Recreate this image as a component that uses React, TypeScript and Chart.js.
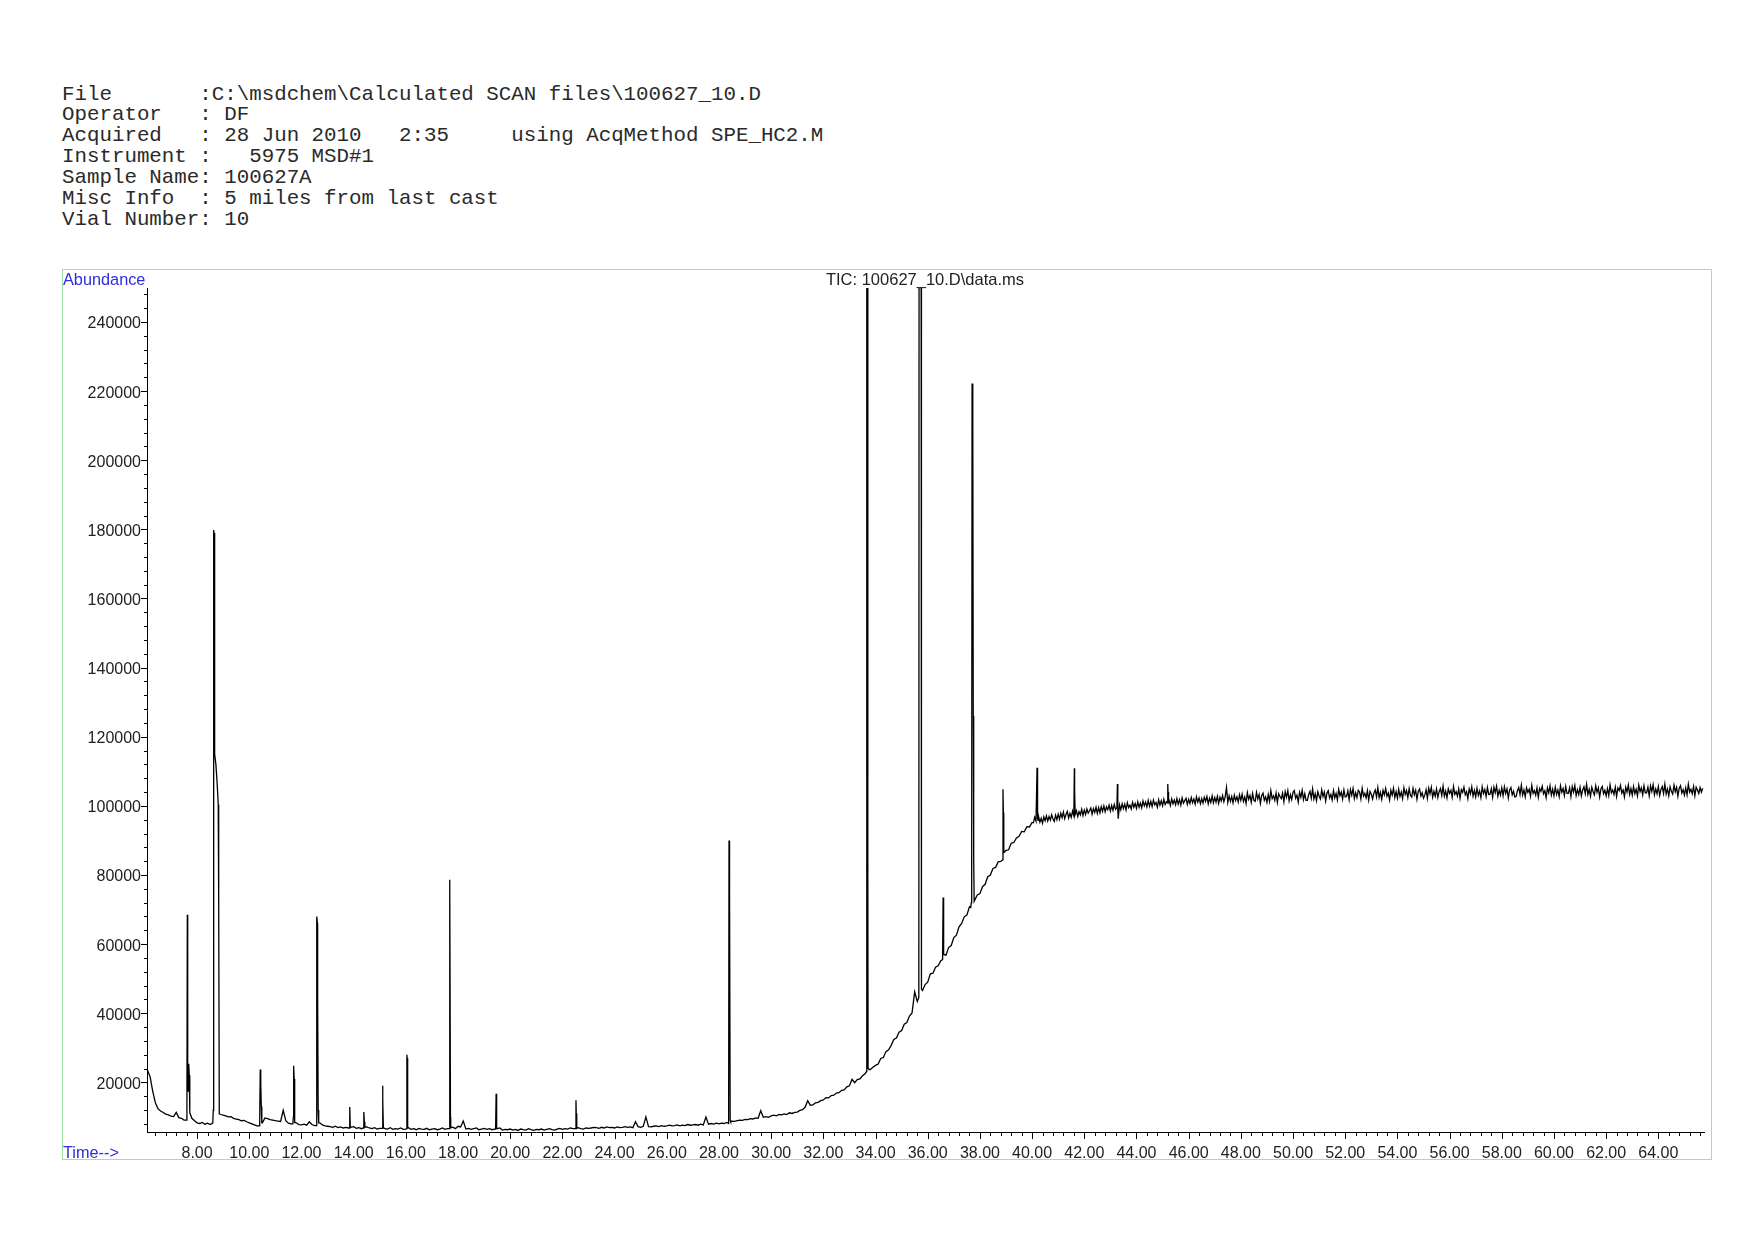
import React, { useEffect, useRef } from 'react';
import { Chart, registerables } from 'chart.js';

Chart.register(...registerables);

// ---------- texts ----------
const headerLines = [
  'File       :C:\\msdchem\\Calculated SCAN files\\100627_10.D',
  'Operator   : DF',
  'Acquired   : 28 Jun 2010   2:35     using AcqMethod SPE_HC2.M',
  'Instrument :   5975 MSD#1',
  'Sample Name: 100627A',
  'Misc Info  : 5 miles from last cast',
  'Vial Number: 10',
];
const chartTitle = 'TIC: 100627_10.D\\data.ms';
const yAxisLabel = 'Abundance';
const xAxisLabel = 'Time-->';

// ---------- axes ----------
const timeMin = 6.08;
const timeMax = 65.75;
const abundanceMin = 5640;
const abundanceMax = 249830;
const xMajorTicks = [8, 10, 12, 14, 16, 18, 20, 22, 24, 26, 28, 30, 32, 34, 36, 38, 40, 42, 44, 46, 48, 50, 52, 54, 56, 58, 60, 62, 64];
const xMinorStep = 0.4;
const yMajorTicks = [20000, 40000, 60000, 80000, 100000, 120000, 140000, 160000, 180000, 200000, 220000, 240000];
const yMinorStep = 4000;

// ---------- TIC baseline (abundance / 1000) ----------
// segments A-C: one scan value every 0.1 min
const segAStart = 6.1;
const segA = [
  23.5, 21.6, 17.4, 14.1, 12.4, 11.7, 11.3, 10.8, 10.6, 10.2,
  10.1, 11.3, 9.8, 9.6, 9.1, 9.2, 10.9, 9.6, 8.9, 8.3,
  8.1, 8.4, 7.9, 8.2, 7.8, 8.0, 8.0, 8.0, 10.7, 10.5,
  10.3, 10.0, 10.1, 9.6, 9.4, 9.2, 8.9, 9.0, 8.6, 8.3,
  8.0, 7.7, 7.4, 7.4, 8.3, 9.7, 9.5, 9.2, 9.1, 8.9,
  8.8, 8.7, 11.9, 8.9, 8.2, 8.0, 8.1, 8.3, 7.8, 7.7,
  7.9, 7.6, 8.6, 7.8, 7.5, 7.6, 8.3, 7.7, 7.4, 7.3,
  7.2, 7.0, 7.3, 6.9, 7.1, 6.8, 7.0, 6.8, 7.0, 7.2,
  6.7, 6.9, 6.6, 7.0, 7.1, 6.8, 6.6, 6.9, 6.5, 6.7,
  6.8, 6.6, 6.5, 6.9, 6.4, 6.6, 6.5, 6.8, 6.4, 6.5,
  6.9, 6.4, 6.6, 6.3, 6.7, 6.5, 6.4, 6.7, 6.3, 6.5,
  6.6, 6.3, 6.5, 6.8, 6.4, 6.6, 6.5, 7.0, 6.6, 7.3,
  7.1, 8.8, 6.5, 6.7, 6.4, 6.6, 6.8, 6.3, 6.5, 6.7,
  6.4, 6.6, 6.3, 6.5, 6.6, 6.8, 6.2, 6.4, 6.3, 6.5,
];
const segBStart = 20.1;
const segB = [
  6.2, 6.4, 6.1, 6.5, 6.3, 6.2, 6.6, 6.3, 6.1, 6.4,
  6.3, 6.5, 6.2, 6.4, 6.6, 6.3, 6.2, 6.5, 6.7, 6.4,
  6.6, 6.5, 6.8, 6.6, 6.7, 6.9, 6.6, 6.5, 6.8, 6.7,
  6.8, 7.0, 6.9, 6.7, 7.0, 6.8, 7.1, 6.9, 7.0, 6.8,
  7.1, 6.9, 7.0, 7.2, 7.0, 7.1, 6.9, 8.6, 7.2, 7.0,
  7.3, 10.0, 7.2, 7.1, 7.3, 7.4, 7.2, 7.5, 7.3, 7.4,
  7.6, 7.4, 7.5, 7.7, 7.4, 7.6, 7.5, 7.8, 7.6, 7.7,
  7.8, 7.6, 7.9, 7.7, 10.0, 7.9, 8.1, 7.9, 8.2, 8.0,
  8.2, 8.1, 8.4, 8.1, 8.8, 8.7, 8.9, 9.1, 9.0, 9.3,
  9.2, 9.5, 9.4, 9.7, 9.6, 11.8, 9.9, 10.1, 9.9, 10.3,
  10.5, 10.3, 10.7, 10.6, 10.9, 10.7, 11.2, 11.0, 11.3, 11.4,
  11.9, 12.1, 12.8, 14.7, 13.4, 13.5, 14.1, 14.2, 14.7, 14.9,
  15.6, 15.5, 16.2, 16.3, 16.9, 17.0, 17.7, 17.8, 18.7, 19.0,
  20.9, 19.9, 20.8, 21.0, 21.9, 22.5, 23.0, 23.7, 24.4, 24.9,
];
const segCStart = 34.1;
const segC = [
  25.3, 26.9, 27.2, 28.9, 29.4, 30.7, 32.4, 32.8, 34.5, 35.0,
  36.8, 37.3, 39.2, 40.1, 46.2, 43.4, 45.0, 46.6, 48.3, 49.0,
  51.4, 51.6, 53.3, 53.7, 55.2, 56.0, 56.8, 59.0, 59.6, 61.9,
  62.6, 65.0, 66.0, 67.9, 68.4, 70.8, 71.0, 72.4, 74.2, 74.6,
  76.6, 77.3, 79.5, 80.0, 81.9, 82.2, 83.8, 83.9, 85.0, 87.1,
  87.3, 89.2, 89.4, 90.7, 91.2, 92.6, 92.5, 94.0, 93.9, 95.2,
];
// segments E-F: one scan value every 0.05 min (noisy plateau)
const segEStart = 40.05;
const segE = [
  95.1, 96.7, 95.6, 94.9, 96.9, 95.3, 96.4, 95.0, 96.8, 95.7,
  97.1, 95.6, 96.9, 95.9, 97.4, 96.2, 95.5, 97.3, 96.0, 97.6,
  96.1, 97.9, 96.6, 98.2, 96.3, 97.5, 98.4, 96.5, 97.8, 96.7,
  98.5, 97.0, 97.2, 98.6, 96.9, 98.3, 97.4, 99.0, 97.2, 98.8,
  97.5, 99.1, 97.9, 98.6, 99.4, 97.6, 99.2, 98.1, 99.6, 97.8,
  99.5, 98.0, 99.8, 98.4, 100.0, 98.3, 99.7, 98.9, 100.2, 98.5,
  100.1, 98.7, 100.4, 99.0, 99.4, 96.3, 100.3, 98.9, 100.6, 99.2,
  100.5, 98.8, 100.9, 99.5, 100.2, 99.1, 101.0, 99.6, 100.7, 99.3,
  101.2, 99.6, 100.8, 99.4, 101.4, 100.0, 101.1, 99.7, 101.6, 99.9,
  101.3, 99.8, 101.7, 100.3, 101.0, 99.6, 101.8, 100.2, 101.5, 100.0,
  101.9, 100.4, 101.2, 100.5, 101.6, 100.1, 102.0, 100.6, 101.7, 100.3,
  102.1, 100.5, 101.8, 100.2, 102.3, 100.8, 101.5, 102.2, 100.4, 101.9,
  100.7, 102.4, 100.9, 102.0, 100.5, 102.6, 101.1, 102.3, 100.6, 102.1,
  100.8, 102.5, 101.3, 102.7, 100.6, 102.2, 101.0, 102.9, 100.9, 102.4,
  101.1, 102.8, 100.7, 102.5, 101.4, 103.0, 101.2, 102.6, 105.3, 101.0,
  102.9, 101.3, 102.7, 100.9, 103.1, 101.5, 102.6, 101.1, 103.2, 101.6,
];
const segFStart = 48.05;
const segF = [
  103.4, 101.3, 102.6, 100.7, 103.8, 101.9, 103.0, 101.0, 103.6, 101.6,
  101.3, 103.9, 102.0, 103.3, 100.7, 103.0, 103.7, 101.6, 102.6, 101.0,
  103.3, 101.3, 104.4, 102.1, 102.9, 101.6, 103.7, 101.0, 103.5, 102.7,
  102.1, 103.7, 101.2, 104.1, 102.5, 104.4, 101.5, 103.2, 101.8, 103.9,
  104.4, 102.2, 103.1, 101.1, 103.9, 102.5, 104.5, 101.8, 103.5, 101.6,
  101.6, 103.3, 104.2, 102.2, 104.9, 102.0, 103.5, 101.5, 104.1, 102.8,
  102.0, 104.6, 102.7, 104.0, 101.4, 103.7, 104.4, 102.3, 103.3, 101.7,
  104.4, 102.3, 103.6, 101.7, 104.8, 102.9, 104.0, 102.0, 104.6, 102.6,
  102.7, 104.3, 101.8, 104.7, 103.1, 105.0, 102.1, 103.8, 102.4, 104.5,
  104.0, 102.0, 105.1, 102.8, 103.6, 102.3, 104.4, 101.7, 104.2, 103.4,
  102.0, 103.7, 104.6, 102.6, 105.3, 102.4, 103.9, 101.9, 104.5, 103.2,
  105.0, 102.8, 103.7, 101.7, 104.5, 103.1, 105.1, 102.4, 104.1, 102.2,
  104.8, 102.7, 104.0, 102.1, 105.2, 103.3, 104.4, 102.4, 105.0, 103.0,
  102.5, 105.1, 103.2, 104.5, 101.9, 104.2, 104.9, 102.8, 103.8, 102.2,
  103.1, 104.7, 102.2, 105.1, 103.5, 105.4, 102.5, 104.2, 102.8, 104.9,
  102.4, 104.1, 105.0, 103.0, 105.7, 102.8, 104.3, 102.3, 104.9, 103.6,
  104.5, 102.5, 105.6, 103.3, 104.1, 102.8, 104.9, 102.2, 104.7, 103.9,
  105.4, 103.2, 104.1, 102.1, 104.9, 103.5, 105.5, 102.8, 104.5, 102.6,
  105.1, 103.0, 104.3, 102.4, 105.5, 103.6, 104.7, 102.7, 105.3, 103.3,
  103.4, 105.0, 102.5, 105.4, 103.8, 105.7, 102.8, 104.5, 103.1, 105.2,
  102.9, 105.5, 103.6, 104.9, 102.3, 104.6, 105.3, 103.2, 104.2, 102.6,
  102.7, 104.4, 105.3, 103.3, 106.0, 103.1, 104.6, 102.6, 105.2, 103.9,
  104.8, 102.8, 105.9, 103.6, 104.4, 103.1, 105.2, 102.5, 105.0, 104.2,
  105.7, 103.5, 104.4, 102.4, 105.2, 103.8, 105.8, 103.1, 104.8, 102.9,
  105.4, 103.3, 104.6, 102.7, 105.8, 103.9, 105.0, 103.0, 105.6, 103.6,
  103.6, 105.2, 102.7, 105.6, 104.0, 105.9, 103.0, 104.7, 103.3, 105.4,
  102.9, 104.6, 105.5, 103.5, 106.2, 103.3, 104.8, 102.8, 105.4, 104.1,
  103.2, 105.8, 103.9, 105.2, 102.6, 104.9, 105.6, 103.5, 104.5, 102.9,
  105.0, 103.0, 106.1, 103.8, 104.6, 103.3, 105.4, 102.7, 105.2, 104.4,
  105.9, 103.7, 104.6, 102.6, 105.4, 104.0, 106.0, 103.3, 105.0, 103.1,
  105.6, 103.5, 104.8, 102.9, 106.0, 104.1, 105.2, 103.2, 105.8, 103.8,
  103.8, 105.4, 102.9, 105.8, 104.2, 106.1, 103.2, 104.9, 103.5, 105.6,
  103.0, 104.7, 105.6, 103.6, 106.3, 103.4, 104.9, 102.9, 105.5, 104.2,
  103.4, 106.0, 104.1, 105.4, 102.8, 105.1, 105.8, 103.7, 104.7, 103.1,
  105.2, 103.2, 106.3, 104.0, 104.8, 103.5, 105.6, 102.9, 105.4, 104.6,
  103.6, 105.3, 104.0, 105.1,
];

// ---------- peaks: [time min, abundance / 1000] ; 300 = off scale ----------
const peaksK: [number, number][][] = [
  [[7.58, 9.1], [7.61, 11.5], [7.625, 68.5], [7.64, 19.0], [7.66, 17.5], [7.68, 25.4], [7.70, 22.0], [7.72, 11.2]],
  [[8.60, 8.2], [8.62, 12.0], [8.635, 179.8], [8.65, 177.0], [8.665, 179.0], [8.68, 115.0], [8.72, 112.0], [8.76, 107.5], [8.79, 103.5], [8.81, 100.3], [8.82, 73.0], [8.835, 72.5], [8.85, 10.9]],
  [[10.38, 7.4], [10.40, 9.5], [10.42, 23.7], [10.44, 19.5], [10.46, 13.0], [10.48, 8.3]],
  [[11.67, 8.0], [11.69, 10.0], [11.70, 24.8], [11.72, 21.0], [11.74, 8.4]],
  [[12.56, 7.5], [12.58, 9.5], [12.59, 68.0], [12.61, 66.0], [12.62, 44.0], [12.64, 12.0], [12.66, 8.3]],
  [[13.83, 6.8], [13.85, 12.9], [13.87, 7.2]],
  [[14.37, 6.8], [14.39, 11.4], [14.41, 8.5], [14.43, 7.0]],
  [[15.09, 6.7], [15.11, 19.0], [15.12, 14.5], [15.14, 6.9]],
  [[16.02, 6.6], [16.04, 28.0], [16.05, 27.0], [16.07, 6.8]],
  [[17.66, 6.6], [17.675, 78.6], [17.69, 77.5], [17.71, 10.0], [17.72, 6.9]],
  [[19.44, 6.5], [19.46, 16.7], [19.47, 12.0], [19.49, 6.6]],
  [[22.50, 6.6], [22.52, 14.8], [22.53, 11.0], [22.55, 6.7]],
  [[28.37, 8.1], [28.385, 90.0], [28.40, 88.5], [28.41, 75.7], [28.43, 9.0], [28.45, 8.6]],
  [[33.66, 23.2], [33.665, 300.0], [33.70, 300.0], [33.705, 78.6], [33.715, 24.0], [33.74, 23.8]],
  [[35.66, 44.5], [35.67, 300.0], [35.745, 300.0], [35.75, 49.0], [35.76, 47.5], [35.77, 47.0]],
  [[36.57, 55.5], [36.59, 73.5], [36.60, 70.0], [36.62, 57.0]],
  [[37.65, 70.6], [37.67, 72.0], [37.68, 84.0], [37.69, 90.0], [37.70, 222.2], [37.72, 215.0], [37.735, 210.0], [37.745, 126.0], [37.76, 124.0], [37.765, 84.0], [37.78, 72.4]],
  [[38.87, 84.4], [38.885, 104.8], [38.90, 98.0], [38.915, 86.5], [38.93, 86.6]],
  [[40.17, 95.6], [40.19, 111.0], [40.20, 104.0], [40.22, 96.4], [40.23, 95.8]],
  [[41.60, 97.1], [41.62, 110.9], [41.63, 104.5], [41.65, 97.5]],
  [[43.25, 99.5], [43.27, 106.3], [43.28, 103.0], [43.29, 98.8]],
  [[45.18, 100.9], [45.20, 106.3], [45.21, 104.0], [45.23, 101.2]],
];

// ---------- build trace ----------
function buildTrace() {
  const pts: { x: number; y: number }[] = [];
  const segs: [number, number, number[]][] = [
    [segAStart, 0.1, segA],
    [segBStart, 0.1, segB],
    [segCStart, 0.1, segC],
    [segEStart, 0.05, segE],
    [segFStart, 0.05, segF],
  ];
  const windows = peaksK.map((p) => [p[0][0], p[p.length - 1][0]]);
  for (const [start, step, vals] of segs) {
    vals.forEach((v, i) => {
      const t = Math.round((start + i * step) * 1000) / 1000;
      if (windows.some(([a, b]) => t >= a - 1e-9 && t <= b + 1e-9)) return;
      pts.push({ x: t, y: v * 1000 });
    });
  }
  for (const p of peaksK) for (const [t, v] of p) pts.push({ x: t, y: v * 1000 });
  pts.sort((a, b) => a.x - b.x);
  return pts;
}

function minorTicks(min: number, max: number, step: number) {
  const out: number[] = [];
  for (let k = Math.ceil(min / step - 1e-9); k * step <= max + 1e-9; k++) out.push(Math.round(k * step * 1000) / 1000);
  return out;
}
const xTickValues = minorTicks(timeMin, timeMax, xMinorStep);
const yTickValues = minorTicks(abundanceMin, abundanceMax, yMinorStep);
const isMajorX = (v: number) => xMajorTicks.some((m) => Math.abs(m - v) < 1e-6);
const isMajorY = (v: number) => yMajorTicks.some((m) => Math.abs(m - v) < 1e-6);

const tickMarks = {
  id: 'tickMarks',
  afterDraw(chart: any) {
    const ctx = chart.ctx;
    const { x, y } = chart.scales;
    const area = chart.chartArea;
    ctx.save();
    ctx.strokeStyle = '#000';
    ctx.lineWidth = 1;
    ctx.beginPath();
    for (const v of xTickValues) {
      const px = Math.round(x.getPixelForValue(v)) + 0.5;
      const len = isMajorX(v) ? 7 : 4;
      ctx.moveTo(px, Math.round(area.bottom));
      ctx.lineTo(px, Math.round(area.bottom) + len);
    }
    for (const v of yTickValues) {
      const py = Math.round(y.getPixelForValue(v)) + 0.5;
      const len = isMajorY(v) ? 6 : 3;
      ctx.moveTo(Math.round(area.left) - len, py);
      ctx.lineTo(Math.round(area.left), py);
    }
    ctx.stroke();
    ctx.restore();
  },
};

const W = 1754;
const H = 1240;
const tickFont = { family: '"Liberation Sans", Arial, sans-serif', size: 16 };

export default function App() {
  const ref = useRef<HTMLCanvasElement>(null);
  useEffect(() => {
    const chart = new Chart(ref.current as HTMLCanvasElement, {
      type: 'scatter',
      data: {
        datasets: [
          {
            data: buildTrace(),
            showLine: true,
            borderColor: '#000',
            borderWidth: 1.3,
            pointRadius: 0,
            tension: 0,
          },
        ],
      },
      plugins: [tickMarks],
      options: {
        responsive: false,
        animation: false,
        devicePixelRatio: 1,
        events: [],
        layout: { padding: { left: 0, top: 288, right: W - 1704, bottom: 0 } },
        plugins: { legend: { display: false }, tooltip: { enabled: false }, title: { display: false } },
        scales: {
          x: {
            type: 'linear',
            position: 'bottom',
            min: timeMin,
            max: timeMax,
            afterBuildTicks: (s: any) => {
              s.ticks = xTickValues.map((v) => ({ value: v }));
            },
            afterFit: (s: any) => {
              s.height = H - 1132;
            },
            grid: { display: false, drawTicks: false },
            border: { display: true, color: '#000', width: 1 },
            ticks: {
              autoSkip: false,
              maxRotation: 0,
              minRotation: 0,
              padding: 12,
              color: '#222',
              font: tickFont,
              callback: (v: any) => (isMajorX(Number(v)) ? Number(v).toFixed(2) : ''),
            },
          },
          y: {
            type: 'linear',
            position: 'left',
            min: abundanceMin,
            max: abundanceMax,
            afterBuildTicks: (s: any) => {
              s.ticks = yTickValues.map((v) => ({ value: v }));
            },
            afterFit: (s: any) => {
              s.width = 147;
            },
            grid: { display: false, drawTicks: false },
            border: { display: true, color: '#000', width: 1 },
            ticks: {
              autoSkip: false,
              padding: 6,
              labelOffset: 2,
              color: '#222',
              font: tickFont,
              callback: (v: any) => (isMajorY(Number(v)) ? String(Number(v)) : ''),
            },
          },
        },
      } as any,
    });
    return () => chart.destroy();
  }, []);

  const sans = '"Liberation Sans", Arial, sans-serif';
  return (
    <div style={{ position: 'absolute', left: 0, top: 0, width: W, height: H, background: '#fff', overflow: 'hidden' }}>
      <pre
        style={{
          position: 'absolute',
          left: 62,
          top: 84.5,
          margin: 0,
          font: '20.8px "Liberation Mono", "Courier New", monospace',
          lineHeight: '20.88px',
          color: '#2a2a2a',
        }}
      >
        {headerLines.join('\n')}
      </pre>
      <div
        style={{
          position: 'absolute',
          left: 62,
          top: 269,
          width: 1650,
          height: 891,
          border: '1px solid #9fe2a6',
          boxSizing: 'border-box',
        }}
      />
      <canvas ref={ref} width={W} height={H} style={{ position: 'absolute', left: 0, top: 0, width: W, height: H }} />
      <div style={{ position: 'absolute', left: 725, top: 269, width: 400, textAlign: 'center', font: `16.5px ${sans}`, lineHeight: '20px', color: '#222' }}>
        {chartTitle}
      </div>
      <div style={{ position: 'absolute', left: 63, top: 269, font: `16.3px ${sans}`, lineHeight: '20px', color: '#2c2ce0' }}>{yAxisLabel}</div>
      <div style={{ position: 'absolute', left: 63, top: 1142, font: `16.3px ${sans}`, lineHeight: '20px', color: '#2c2ce0' }}>{xAxisLabel}</div>
    </div>
  );
}
